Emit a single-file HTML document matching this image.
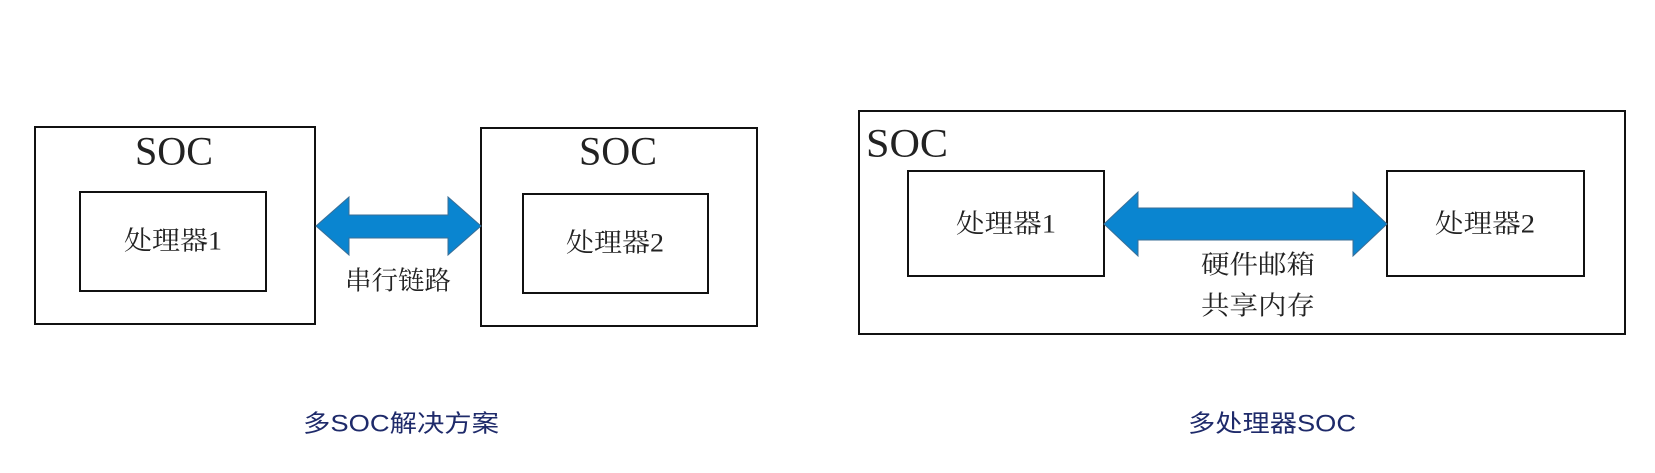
<!DOCTYPE html>
<html><head><meta charset="utf-8"><style>
body{margin:0;background:#fff;width:1655px;height:468px;overflow:hidden}
svg text{font-family:"Liberation Serif","Noto Serif CJK SC",serif;fill:#222}
.cap{font-family:"Liberation Sans","Noto Sans CJK SC",sans-serif!important;fill:#1e2a6a!important}
</style></head><body>
<svg width="1655" height="468" xmlns="http://www.w3.org/2000/svg">
<g fill="none" stroke="#111" stroke-width="2">
<rect x="35" y="127" width="280" height="197"/>
<rect x="80" y="192" width="186" height="99"/>
<rect x="481" y="128" width="276" height="198"/>
<rect x="523" y="194" width="185" height="99"/>
<rect x="859" y="111" width="766" height="223"/>
<rect x="908" y="171" width="196" height="105"/>
<rect x="1387" y="171" width="197" height="105"/>
</g>
<path d="M316 226 L349 197 L349 215 L448 215 L448 197 L481 226 L448 255 L448 238 L349 238 L349 255 Z" fill="#0a85d0" stroke="#3a6e96" stroke-width="1"/>
<path d="M1104 224 L1138 192 L1138 208 L1353 208 L1353 192 L1387 224 L1353 256 L1353 240 L1138 240 L1138 256 Z" fill="#0a85d0" stroke="#3a6e96" stroke-width="1"/>
<g text-anchor="middle" dominant-baseline="central">
<text x="174" y="151" font-size="40" textLength="78" lengthAdjust="spacingAndGlyphs">SOC</text>
<text x="618" y="151" font-size="40" textLength="78" lengthAdjust="spacingAndGlyphs">SOC</text>
<text x="173" y="241" font-size="26" textLength="98" lengthAdjust="spacingAndGlyphs">处理器1</text>
<text x="615" y="243" font-size="26" textLength="98" lengthAdjust="spacingAndGlyphs">处理器2</text>
<text x="398" y="281" font-size="26" textLength="106" lengthAdjust="spacingAndGlyphs">串行链路</text>
<text x="1006" y="224" font-size="26" textLength="100" lengthAdjust="spacingAndGlyphs">处理器1</text>
<text x="1485" y="224" font-size="26" textLength="100" lengthAdjust="spacingAndGlyphs">处理器2</text>
<text x="1258" y="265" font-size="26" textLength="114" lengthAdjust="spacingAndGlyphs">硬件邮箱</text>
<text x="1258" y="306" font-size="26" textLength="114" lengthAdjust="spacingAndGlyphs">共享内存</text>
<text class="cap" x="401" y="424" font-size="24" textLength="196" lengthAdjust="spacingAndGlyphs">多SOC解决方案</text>
<text class="cap" x="1272" y="424" font-size="24" textLength="168" lengthAdjust="spacingAndGlyphs">多处理器SOC</text>
</g>
<text x="866" y="143" font-size="40" dominant-baseline="central" textLength="82" lengthAdjust="spacingAndGlyphs">SOC</text>
</svg>
</body></html>
